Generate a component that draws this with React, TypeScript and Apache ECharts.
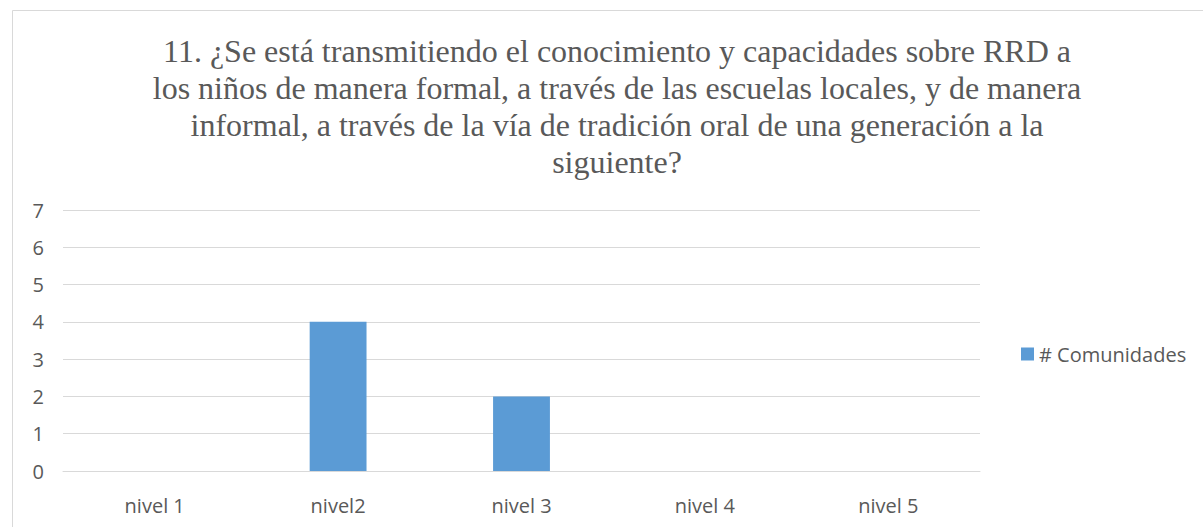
import React, { useEffect, useRef } from "react";
import * as echarts from "echarts";

const categories = ["nivel 1", "nivel2", "nivel 3", "nivel 4", "nivel 5"];
const values = [0, 4, 2, 0, 0];
const seriesName = "# Comunidades";
const titleLines = [
  "11. ¿Se está transmitiendo el conocimiento y capacidades sobre RRD a",
  "los niños de manera formal, a través de las escuelas locales, y de manera",
  "informal, a través de la vía de tradición oral de una generación a la",
  "siguiente?",
];

export default function App() {
  const ref = useRef<HTMLDivElement>(null);
  useEffect(() => {
    document.body.style.margin = "0";
    const chart = echarts.init(ref.current!, null, { renderer: "svg" });
    chart.setOption({
      animation: false,
      backgroundColor: "#ffffff",
      title: {
        text: titleLines.join("\n"),
        left: 612,
        top: 27,
        textAlign: "center",
        textStyle: {
          fontFamily: "Liberation Serif",
          fontSize: 32,
          fontWeight: "normal",
          color: "#595959",
          lineHeight: 37,
        },
      },
      graphic: [
        {
          type: "rect",
          shape: { x: 12.5, y: 10.5, width: 1200, height: 530 },
          style: { fill: "none", stroke: "#d9d9d9", lineWidth: 1 },
          silent: true,
        },
      ],
      legend: {
        data: [seriesName],
        left: 1016,
        top: 339,
        itemWidth: 13,
        itemHeight: 13,
        itemGap: 6,
        icon: "rect",
        textStyle: { fontFamily: "Open Sans", fontSize: 20, color: "#595959" },
      },
      grid: { left: 63, right: 223, top: 210, bottom: 56, containLabel: false },
      xAxis: {
        type: "category",
        data: categories,
        axisLine: { show: true, lineStyle: { color: "#d9d9d9" } },
        axisTick: { show: false },
        axisLabel: {
          fontFamily: "Open Sans",
          fontSize: 20,
          color: "#595959",
          margin: 24,
        },
      },
      yAxis: {
        type: "value",
        min: 0,
        max: 7,
        interval: 1,
        axisLine: { show: false },
        axisTick: { show: false },
        axisLabel: {
          fontFamily: "Open Sans",
          fontSize: 20,
          color: "#595959",
          margin: 19,
        },
        splitLine: { lineStyle: { color: "#d9d9d9", width: 1 } },
      },
      series: [
        {
          name: seriesName,
          type: "bar",
          data: values,
          barWidth: "31%",
          itemStyle: { color: "#5b9bd5" },
        },
      ],
    });
    return () => chart.dispose();
  }, []);
  return <div ref={ref} style={{ width: 1203, height: 527 }} />;
}
